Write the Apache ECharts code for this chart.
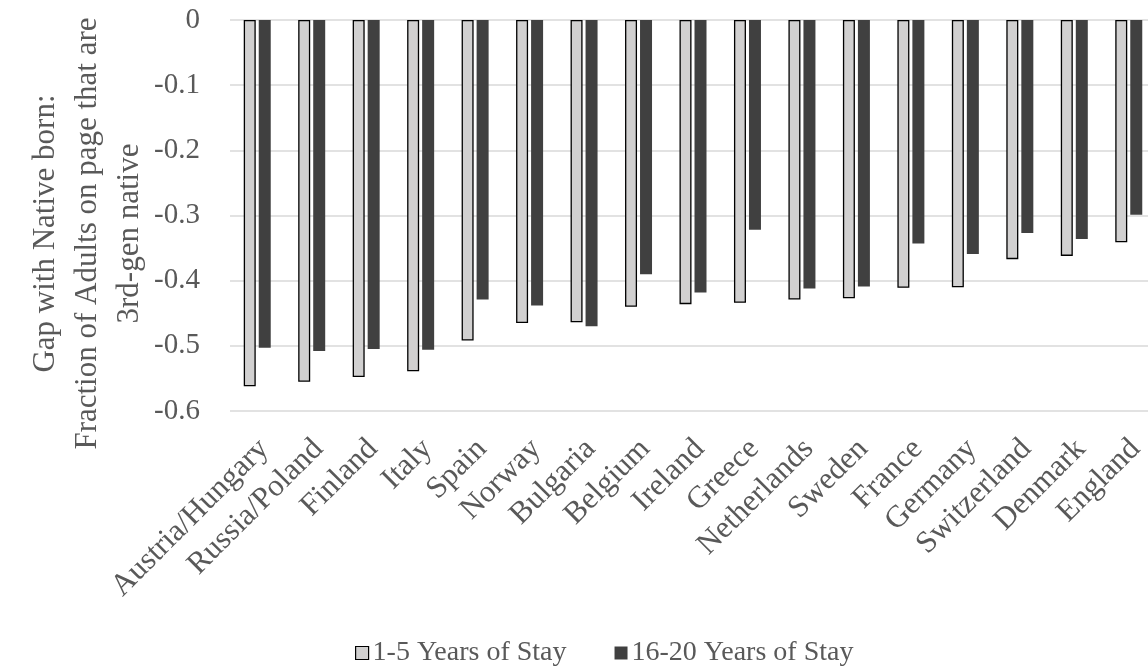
<!DOCTYPE html>
<html>
<head>
<meta charset="utf-8">
<script src="https://cdn.jsdelivr.net/npm/echarts@6/dist/echarts.min.js"></script>
<style>
  html, body { margin: 0; padding: 0; background: #fff; }
  #chart { width: 1148px; height: 671px; }
</style>
</head>
<body>
<div id="chart"></div>
<script>
// Countries of origin, ordered by the gap for recent arrivals
const categories = [
  'Austria/Hungary', 'Russia/Poland', 'Finland', 'Italy', 'Spain', 'Norway',
  'Bulgaria', 'Belgium', 'Ireland', 'Greece', 'Netherlands', 'Sweden',
  'France', 'Germany', 'Switzerland', 'Denmark', 'England'
];

// Gap with native born, immigrants with 1-5 years in the US
const stay1to5 = [
  -0.562, -0.555, -0.548, -0.539, -0.492, -0.465, -0.464, -0.440, -0.436,
  -0.434, -0.429, -0.427, -0.411, -0.410, -0.367, -0.362, -0.341
];

// Gap with native born, immigrants with 16-20 years in the US
const stay16to20 = [
  -0.503, -0.508, -0.505, -0.506, -0.429, -0.438, -0.470, -0.390, -0.418,
  -0.322, -0.412, -0.409, -0.343, -0.359, -0.327, -0.336, -0.299
];

const seriesNames = ['1-5 Years of Stay', '16-20 Years of Stay'];
const yAxisTitle = 'Gap with Native born:\nFraction of Adults on page that are\n3rd-gen native';

const FONT = "'Liberation Serif', 'Times New Roman', serif";
const TEXT = '#595959';

const chart = echarts.init(document.getElementById('chart'), null, { renderer: 'canvas' });

chart.setOption({
  animation: false,
  backgroundColor: '#ffffff',
  textStyle: { fontFamily: FONT, color: TEXT },
  grid: {
    left: 230, top: 20, width: 926, height: 391,
    containLabel: false,
    outerBoundsMode: 'none'
  },
  legend: {
    data: [
      { name: seriesNames[0], itemStyle: { color: '#d1d0d0', borderColor: '#000', borderWidth: 1.2 } },
      { name: seriesNames[1], itemStyle: { color: '#404040' } }
    ],
    left: 350,
    top: 634,
    itemWidth: 13,
    itemHeight: 13,
    itemGap: 48,
    icon: 'rect',
    textStyle: { fontFamily: FONT, fontSize: 28, color: TEXT, padding: [0, 0, 0, -1] }
  },
  xAxis: {
    type: 'category',
    data: categories,
    position: 'bottom',
    axisLine: { show: false, onZero: false },
    axisTick: { show: false },
    splitLine: { show: false },
    axisLabel: {
      rotate: 45,
      margin: 18,
      interval: 0,
      verticalAlign: 'top',
      padding: [0, 6, 0, 0],
      fontFamily: FONT,
      fontSize: 31,
      color: TEXT
    }
  },
  yAxis: {
    type: 'value',
    min: -0.6,
    max: 0,
    interval: 0.1,
    name: yAxisTitle,
    nameLocation: 'middle',
    nameRotate: 90,
    nameGap: 79,
    nameMoveOverlap: false,
    nameTextStyle: {
      fontFamily: FONT, fontSize: 31, color: TEXT, lineHeight: 42, align: 'center',
      padding: [0, 36, 0, 0]
    },
    axisLine: { show: false },
    axisTick: { show: false },
    splitLine: { show: true, lineStyle: { color: '#d9d9d9', width: 1.5 } },
    axisLabel: {
      margin: 30,
      fontFamily: FONT,
      fontSize: 29,
      color: TEXT,
      formatter: function (v) {
        return Math.abs(v) < 1e-9 ? '0' : String(+v.toFixed(1));
      }
    }
  },
  series: [
    {
      name: seriesNames[0],
      type: 'bar',
      data: stay1to5,
      barWidth: 12,
      barGap: '25%',
      itemStyle: { color: '#d1d0d0', borderColor: '#000000', borderWidth: 1.3 }
    },
    {
      name: seriesNames[1],
      type: 'bar',
      data: stay16to20,
      barWidth: 12,
      itemStyle: { color: '#404040' }
    }
  ]
});
</script>
</body>
</html>
